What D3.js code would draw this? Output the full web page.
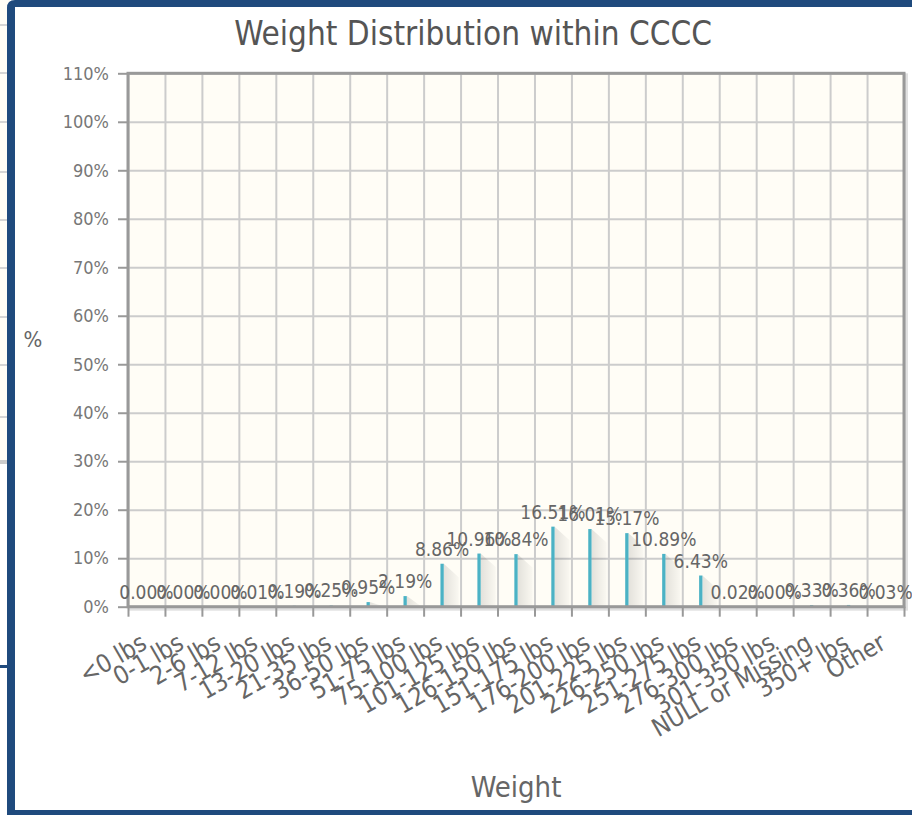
<!DOCTYPE html>
<html lang="en">
<head>
    <meta charset="UTF-8">
    <title>Weight Distribution within CCCC</title>
    <script src="https://d3js.org/d3.v7.min.js"></script>
    <style>
        body {
            margin: 0;
            background: white;
        }
        svg text {
            font-family: "DejaVu Sans Condensed", "DejaVu Sans", sans-serif;
            font-stretch: condensed;
        }
        .title {
            font-size: 33px;
            fill: #555;
        }
        .axis-title {
            font-size: 29px;
            fill: #666;
        }
        .tick-label {
            font-size: 18px;
            fill: #777;
        }
        .cat-label {
            font-size: 25px;
            fill: #666;
        }
        .point-label {
            font-size: 19px;
            fill: #666;
        }
        .grid line {
            stroke: #cccccc;
            stroke-width: 2;
        }
        .bar {
            fill: #4bb2c5;
        }
    </style>
</head>
<body>
    <svg width="912" height="815"></svg>
    <script>
        // chart data
        const categories = ["<0 lbs", "0-1 lbs", "2-6 lbs", "7-12 lbs", "13-20 lbs", "21-35 lbs",
            "36-50 lbs", "51-75 lbs", "75-100 lbs", "101-125 lbs", "126-150 lbs", "151-175 lbs",
            "176-200 lbs", "201-225 lbs", "226-250 lbs", "251-275 lbs", "276-300 lbs",
            "301-350 lbs", "NULL or Missing", "350+ lbs", "Other"];
        const percents = [0.00, 0.00, 0.00, 0.01, 0.19, 0.25, 0.95, 2.19, 8.86, 10.96, 10.84,
            16.51, 16.01, 15.17, 10.89, 6.43, 0.02, 0.00, 0.33, 0.36, 0.03];
        const yTicks = [0, 10, 20, 30, 40, 50, 60, 70, 80, 90, 100, 110];

        const svg = d3.select("svg");
        const plot = {left: 128, right: 904, top: 73.3, bottom: 606.7};

        // page behind the dialog (left strip)
        svg.append("rect").attr("x", 0).attr("y", 0).attr("width", 10).attr("height", 462)
            .attr("fill", "#fffdf6");
        [25, 73, 122, 172, 220, 268, 317, 365, 417].forEach(yy => {
            svg.append("line").attr("x1", 0).attr("x2", 10).attr("y1", yy).attr("y2", yy)
                .attr("stroke", "#d5d5d5").attr("stroke-width", 2);
        });
        svg.append("rect").attr("x", 0).attr("y", 460).attr("width", 10).attr("height", 4).attr("fill", "#ccc");
        svg.append("rect").attr("x", 0).attr("y", 665).attr("width", 10).attr("height", 3).attr("fill", "#1f4a7d");

        // dialog frame
        svg.append("path")
            .attr("d", "M7,815 L7,8 Q7,0 15,0 L912,0 L912,7 L15,7 L15,810 L912,810 L912,815 Z")
            .attr("fill", "#1f4a7d");

        const x = d3.scaleBand().domain(categories).range([plot.left, plot.right]).padding(0);
        const xEdge = d3.scaleLinear().domain([0, categories.length]).range([plot.left, plot.right]);
        const y = d3.scaleLinear().domain([0, 110]).range([plot.bottom, plot.top]);

        // title
        svg.append("text").attr("class", "title")
            .attr("x", 473).attr("y", 45)
            .attr("text-anchor", "middle")
            .text("Weight Distribution within CCCC");

        // plot background + frame shadow
        svg.append("rect")
            .attr("x", plot.left + 2).attr("y", plot.top + 2)
            .attr("width", plot.right - plot.left).attr("height", plot.bottom - plot.top)
            .attr("fill", "none").attr("stroke", "rgba(0,0,0,0.12)").attr("stroke-width", 4);
        svg.append("rect")
            .attr("x", plot.left).attr("y", plot.top)
            .attr("width", plot.right - plot.left).attr("height", plot.bottom - plot.top)
            .attr("fill", "#fffdf6");

        // grid
        svg.append("g").attr("class", "grid")
            .attr("transform", `translate(${plot.left},0)`)
            .call(d3.axisLeft(y).tickValues(yTicks).tickSize(-(plot.right - plot.left)).tickFormat(""))
            .call(g => g.select(".domain").remove());
        svg.append("g").attr("class", "grid")
            .attr("transform", `translate(0,${plot.top})`)
            .call(d3.axisBottom(xEdge).ticks(categories.length).tickSize(plot.bottom - plot.top).tickFormat(""))
            .call(g => g.select(".domain").remove());

        // bar shadows
        const defs = svg.append("defs");
        const grad = defs.append("linearGradient").attr("id", "shade")
            .attr("x1", "0%").attr("x2", "100%").attr("y1", "0%").attr("y2", "0%");
        grad.append("stop").attr("offset", "0%").attr("stop-color", "#000").attr("stop-opacity", 0.11);
        grad.append("stop").attr("offset", "100%").attr("stop-color", "#000").attr("stop-opacity", 0.02);

        const barW = 3.3, shW = 15;
        const cx = d => x(d) + x.bandwidth() / 2;

        svg.append("g").selectAll("polygon")
            .data(categories.map((c, i) => ({c, v: percents[i]})).filter(d => d.v > 0.5))
            .join("polygon")
            .attr("fill", "url(#shade)")
            .attr("points", d => {
                const x0 = cx(d.c) + barW / 2, t = y(d.v), b = y(0);
                const t2 = Math.min(b, t + shW * 0.9);
                return `${x0},${t} ${x0 + shW},${t2} ${x0 + shW},${b} ${x0},${b}`;
            });

        // bars
        svg.append("g").selectAll("rect")
            .data(categories.map((c, i) => ({c, v: percents[i]})))
            .join("rect")
            .attr("class", "bar")
            .attr("x", d => cx(d.c) - barW / 2)
            .attr("width", barW)
            .attr("y", d => y(d.v))
            .attr("height", d => y(0) - y(d.v));

        // frame
        svg.append("rect")
            .attr("x", plot.left).attr("y", plot.top)
            .attr("width", plot.right - plot.left).attr("height", plot.bottom - plot.top)
            .attr("fill", "none").attr("stroke", "#999").attr("stroke-width", 3);

        // y axis
        const yAxis = svg.append("g")
            .attr("transform", `translate(${plot.left},0)`)
            .call(d3.axisLeft(y).tickValues(yTicks).tickSize(10).tickPadding(9).tickFormat(d => d + "%"));
        yAxis.select(".domain").remove();
        yAxis.selectAll("line").attr("stroke", "#999").attr("stroke-width", 2);
        yAxis.selectAll("text").attr("class", "tick-label");

        // x axis tick marks at category edges
        const xAxis = svg.append("g")
            .attr("transform", `translate(0,${plot.bottom})`)
            .call(d3.axisBottom(xEdge).ticks(categories.length).tickSize(10).tickFormat(""));
        xAxis.select(".domain").remove();
        xAxis.selectAll("line").attr("stroke", "#999").attr("stroke-width", 2);

        // category labels
        svg.append("g").selectAll("text")
            .data(categories)
            .join("text")
            .attr("class", "cat-label")
            .attr("text-anchor", "end")
            .attr("transform", d => `translate(${cx(d) + 2},${plot.bottom + 41}) rotate(-30)`)
            .text(d => d);

        // point labels
        svg.append("g").selectAll("text")
            .data(categories.map((c, i) => ({c, v: percents[i]})))
            .join("text")
            .attr("class", "point-label")
            .attr("text-anchor", "middle")
            .attr("x", d => cx(d.c))
            .attr("y", d => y(d.v) - 8)
            .text(d => d.v.toFixed(2) + "%");

        // axis titles
        svg.append("text").attr("class", "axis-title")
            .attr("x", 516).attr("y", 797)
            .attr("text-anchor", "middle")
            .text("Weight");
        svg.append("text").attr("class", "axis-title")
            .attr("x", 33).attr("y", 347)
            .attr("text-anchor", "middle")
            .style("font-size", "22px")
            .text("%");
    </script>
</body>
</html>
